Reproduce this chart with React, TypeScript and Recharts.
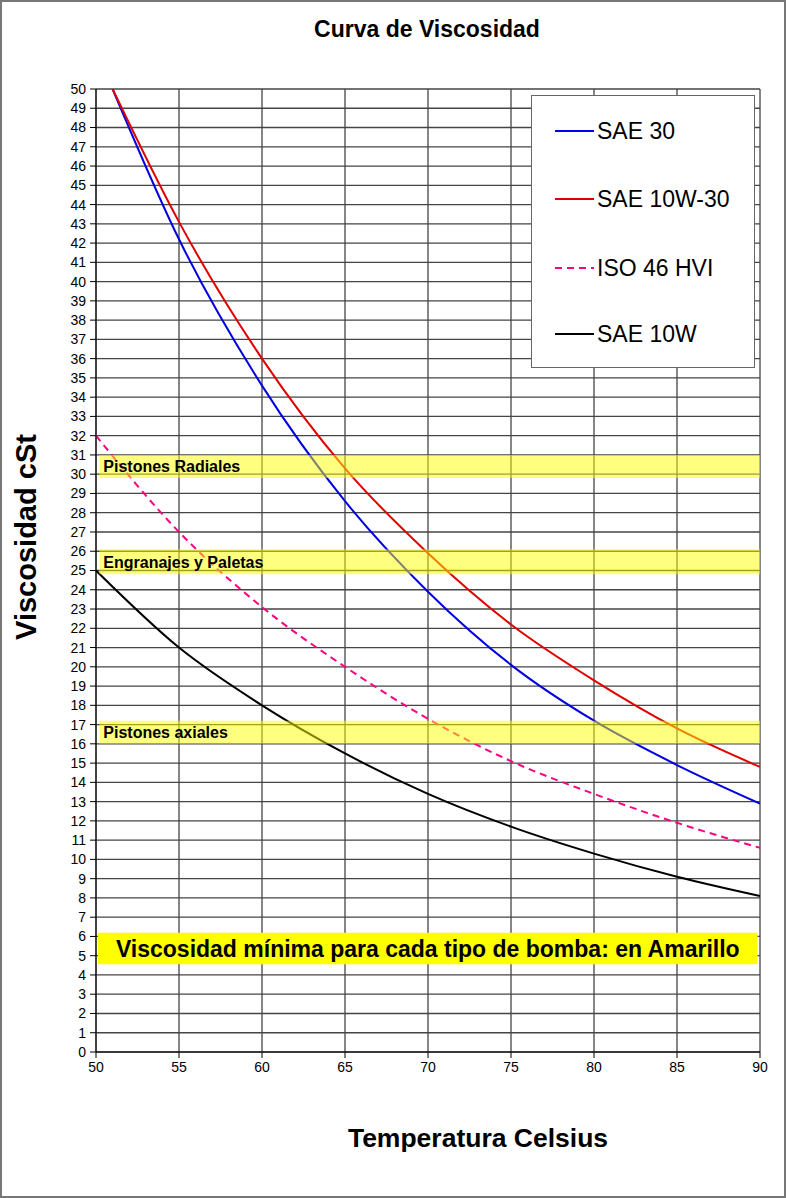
import React from 'react';
import {
  LineChart,
  Line,
  XAxis,
  YAxis,
  CartesianGrid,
  ReferenceArea,
  Legend,
} from 'recharts';

// ---- Data ----
const tempsMulti = [51, 55, 60, 65, 70, 75, 80, 85, 90];
const tempsBase = [50, 55, 60, 65, 70, 75, 80, 85, 90];

const sae30 = [50, 42.2, 34.6, 28.6, 23.9, 20.1, 17.2, 14.9, 12.9];
const sae10w30 = [50, 43.1, 36.0, 30.3, 25.9, 22.2, 19.3, 16.8, 14.8];
const iso46hvi = [32, 27.0, 23.1, 20.0, 17.3, 15.1, 13.4, 11.9, 10.6];
const sae10w = [25, 21.0, 18.0, 15.5, 13.4, 11.7, 10.3, 9.1, 8.1];

const xTicks = [50, 55, 60, 65, 70, 75, 80, 85, 90];
const yTicks = Array.from({ length: 51 }, (_, i) => i);

const bandNames = ['Pistones Radiales', 'Engranajes y Paletas', 'Pistones axiales'];
const bandLow = [29.8, 24.8, 16.0];
const bandHigh = [31.0, 26.1, 17.2];

const bannerText = 'Viscosidad mínima para cada tipo de bomba: en Amarillo';
const bannerLow = 4.55;
const bannerHigh = 6.19;

const seriesNames = ['SAE 30', 'SAE 10W-30', 'ISO 46 HVI', 'SAE 10W'];
const seriesColors = ['#0000e0', '#e00000', '#ff0080', '#000000'];
const seriesDash = ['', '', '7 5', ''];

const toPoints = (xs: number[], ys: number[]) => xs.map((t, i) => ({ t, v: ys[i] }));

const seriesData = [
  toPoints(tempsMulti, sae30),
  toPoints(tempsMulti, sae10w30),
  toPoints(tempsBase, iso46hvi),
  toPoints(tempsBase, sae10w),
];

const FONT = '"Liberation Sans", Arial, Helvetica, sans-serif';

const rowCenters = [35, 103, 172, 238];

const renderLegend = () => (
  <div
    style={{
      position: 'relative',
      width: 224,
      height: 273,
      boxSizing: 'border-box',
      border: '1px solid #666',
      background: '#fff',
      fontFamily: FONT,
    }}
  >
    {seriesNames.map((name, i) => (
      <div
        key={name}
        style={{
          position: 'absolute',
          left: 23,
          top: rowCenters[i] - 15,
          height: 30,
          display: 'flex',
          alignItems: 'center',
        }}
      >
        <svg width={40} height={10} style={{ display: 'block' }}>
          <line
            x1={0}
            y1={5}
            x2={39}
            y2={5}
            stroke={seriesColors[i]}
            strokeWidth={2}
            strokeDasharray={seriesDash[i] || undefined}
          />
        </svg>
        <span style={{ fontSize: 23, color: '#000', marginLeft: 2, whiteSpace: 'nowrap' }}>{name}</span>
      </div>
    ))}
  </div>
);

export default function App() {
  return (
    <div
      style={{
        position: 'absolute',
        left: 0,
        top: 0,
        width: 786,
        height: 1198,
        background: '#fff',
        fontFamily: FONT,
      }}
    >
      <LineChart
        width={786}
        height={1198}
        margin={{ top: 89, right: 26, left: 0, bottom: 116 }}
      >
        <CartesianGrid stroke="#454545" strokeWidth={1.3} />
        <XAxis
          dataKey="t"
          type="number"
          domain={[50, 90]}
          ticks={xTicks}
          interval={0}
          height={30}
          tickSize={6}
          tickMargin={4}
          allowDataOverflow
          stroke="#000"
          tick={{ fontSize: 14, fill: '#000', fontFamily: FONT }}
        />
        <YAxis
          type="number"
          domain={[0, 50]}
          ticks={yTicks}
          interval={0}
          width={96}
          tickSize={6}
          tickMargin={4}
          allowDataOverflow
          stroke="#000"
          tick={{ fontSize: 14, fill: '#000', fontFamily: FONT }}
        />
        {seriesNames.map((name, i) => (
          <Line
            key={name}
            data={seriesData[i]}
            dataKey="v"
            name={name}
            type="monotone"
            stroke={seriesColors[i]}
            strokeWidth={2}
            strokeDasharray={seriesDash[i] || undefined}
            dot={false}
            activeDot={false}
            isAnimationActive={false}
          />
        ))}
        {bandNames.map((name, i) => (
          <ReferenceArea
            key={name}
            x1={50.2}
            x2={90}
            y1={bandLow[i]}
            y2={bandHigh[i]}
            fill="#ffff00"
            fillOpacity={0.5}
            stroke="none"
            zIndex={1000}
            ifOverflow="visible"
            label={{
              value: name,
              position: 'insideLeft',
              offset: 4,
              fontSize: 16,
              fontWeight: 'bold',
              fill: '#000',
              fontFamily: FONT,
            }}
          />
        ))}
        <ReferenceArea
          x1={50.12}
          x2={89.85}
          y1={bannerLow}
          y2={bannerHigh}
          fill="#ffff00"
          fillOpacity={1}
          stroke="none"
          zIndex={1000}
          label={{
            value: bannerText,
            position: 'center',
            fontSize: 23,
            fontWeight: 'bold',
            fill: '#000',
            fontFamily: FONT,
          }}
        />
        <Legend
          layout="horizontal"
          verticalAlign="middle"
          align="center"
          content={renderLegend}
          wrapperStyle={{ position: 'absolute', left: 531, top: 95, width: 224, height: 273 }}
        />
      </LineChart>

      <div
        style={{
          position: 'absolute',
          left: 227,
          top: 16,
          width: 400,
          textAlign: 'center',
          fontSize: 23,
          fontWeight: 'bold',
          lineHeight: '26px',
          color: '#000',
        }}
      >
        Curva de Viscosidad
      </div>

      <div
        style={{
          position: 'absolute',
          left: 278,
          top: 1123,
          width: 400,
          textAlign: 'center',
          fontSize: 26.5,
          fontWeight: 'bold',
          lineHeight: '30px',
          color: '#000',
        }}
      >
        Temperatura Celsius
      </div>

      <div
        style={{
          position: 'absolute',
          left: 26 - 150,
          top: 537 - 20,
          width: 300,
          height: 40,
          lineHeight: '40px',
          textAlign: 'center',
          fontSize: 29,
          fontWeight: 'bold',
          color: '#000',
          transform: 'rotate(-90deg)',
        }}
      >
        Viscosidad cSt
      </div>

      <div
        style={{
          position: 'absolute',
          left: 0,
          top: 0,
          width: 786,
          height: 1198,
          boxSizing: 'border-box',
          border: '2px solid #777',
          pointerEvents: 'none',
        }}
      />
    </div>
  );
}
